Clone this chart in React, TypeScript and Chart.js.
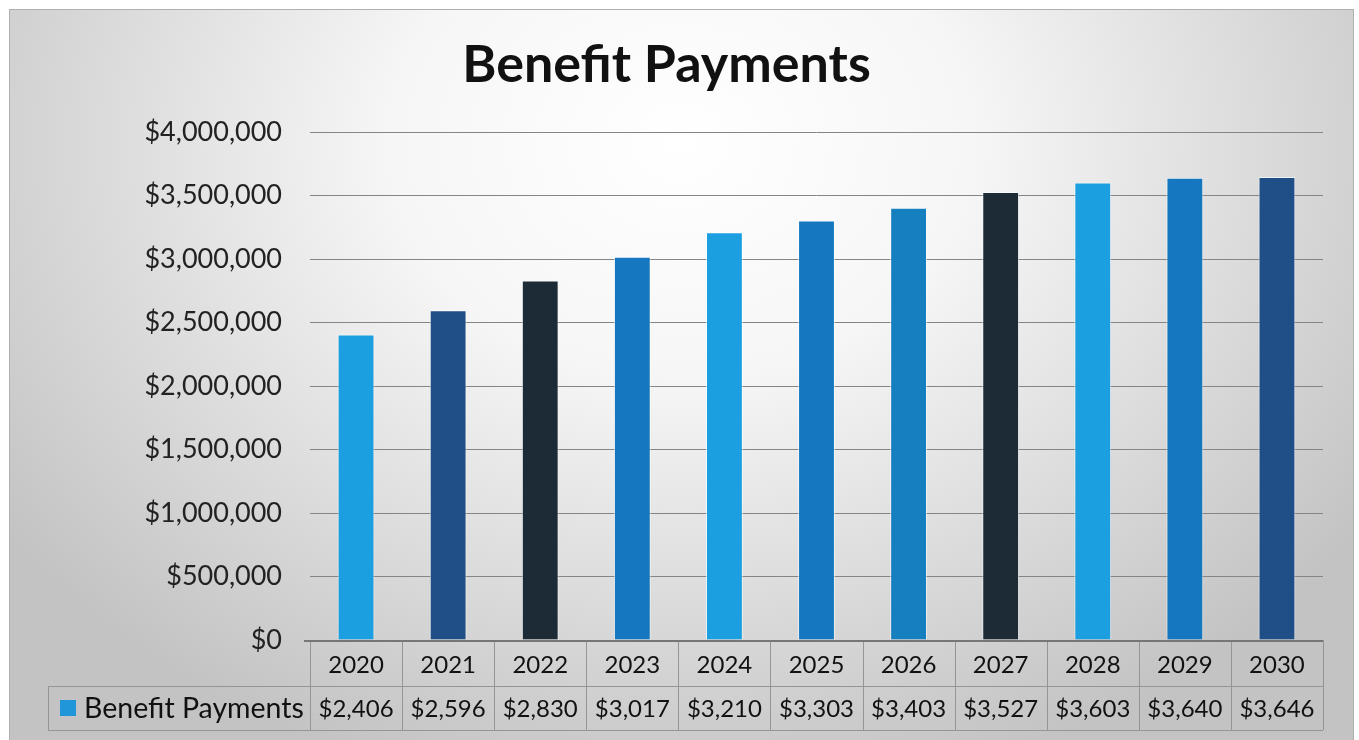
import React, { useEffect, useRef } from "react";
import { Chart, registerables } from "chart.js";

Chart.register(...registerables);

const TITLE = "Benefit Payments";
const SERIES_NAME = "Benefit Payments";
const YEARS = ["2020", "2021", "2022", "2023", "2024", "2025", "2026", "2027", "2028", "2029", "2030"];
const PAYMENTS = [2406000, 2596000, 2830000, 3017000, 3210000, 3303000, 3403000, 3527000, 3603000, 3640000, 3646000];
const BAR_COLORS = [
  "#1b9fe0",
  "#1f4f86",
  "#1c2b35",
  "#1477bf",
  "#1b9fe0",
  "#1477bf",
  "#167fc0",
  "#1c2b35",
  "#1b9fe0",
  "#1477bf",
  "#1f4f86",
];
const LEGEND_COLOR = "#2196d8";
const Y_MIN = 0;
const Y_MAX = 4000000;
const Y_STEP = 500000;

const FONT = "Lato, 'Open Sans', sans-serif";

const money = (v: number) => "$" + Math.round(v).toLocaleString("en-US");

const tablePlugin = {
  id: "dataTable",
  afterDraw(chart: any) {
    const { ctx, chartArea } = chart;
    const xs = chart.scales.x;
    const n = YEARS.length;
    const left = chartArea.left;
    const right = chartArea.right;
    const top = chartArea.bottom;
    const colW = (right - left) / n;
    const row1 = top + 46;
    const row2 = top + 90;
    const legendLeft = 48;
    ctx.save();
    const line = (x1: number, y1: number, x2: number, y2: number) => {
      ctx.beginPath();
      ctx.moveTo(x1, y1);
      ctx.lineTo(x2, y2);
      ctx.stroke();
    };
    ctx.strokeStyle = "#959595";
    ctx.lineWidth = 1;
    line(legendLeft, row1 + 0.5, right, row1 + 0.5);
    line(legendLeft, row2 + 0.5, right, row2 + 0.5);
    for (let i = 0; i <= n; i++) {
      const xx = Math.round(left + i * colW) + 0.5;
      line(xx, top, xx, row2);
    }
    line(legendLeft + 0.5, row1, legendLeft + 0.5, row2);
    ctx.strokeStyle = "#767676";
    ctx.lineWidth = 2;
    line(left - 6, top + 1, right, top + 1);

    ctx.fillStyle = "#111";
    ctx.textAlign = "center";
    ctx.textBaseline = "middle";
    ctx.font = `24px ${FONT}`;
    for (let i = 0; i < n; i++) {
      const cx = xs.getPixelForValue(i);
      ctx.fillText(YEARS[i], cx, (top + row1) / 2 + 2);
      ctx.fillText(money(PAYMENTS[i] / 1000), cx, (row1 + row2) / 2 + 1);
    }
    ctx.fillStyle = LEGEND_COLOR;
    ctx.fillRect(60, Math.round((row1 + row2) / 2) - 8, 16, 16);
    ctx.fillStyle = "#111";
    ctx.textAlign = "left";
    ctx.font = `28.5px ${FONT}`;
    ctx.fillText(SERIES_NAME, 84, (row1 + row2) / 2 + 1);
    ctx.restore();
  },
};

export default function App() {
  const canvasRef = useRef<HTMLCanvasElement | null>(null);

  useEffect(() => {
    if (!canvasRef.current) return;
    const chart = new Chart(canvasRef.current, {
      type: "bar",
      data: {
        labels: YEARS,
        datasets: [
          {
            label: SERIES_NAME,
            data: PAYMENTS,
            backgroundColor: BAR_COLORS,
            borderColor: "rgba(255,255,255,0.6)",
            borderWidth: 1,
            categoryPercentage: 1,
            barPercentage: 0.4,
          },
        ],
      },
      options: {
        responsive: false,
        animation: false,
        devicePixelRatio: 1,
        layout: { padding: { top: 10, left: 10, right: 36, bottom: 100 } },
        plugins: {
          legend: { display: false },
          tooltip: { enabled: false },
          title: {
            display: true,
            text: TITLE,
            color: "#111",
            font: { family: FONT, size: 52, weight: "bold", lineHeight: 1.2 },
            padding: { top: 24, bottom: 35.6 },
          },
        },
        scales: {
          x: {
            display: false,
            grid: { display: false },
          },
          y: {
            min: Y_MIN,
            max: Y_MAX,
            border: { display: false },
            grid: { color: "#858585", lineWidth: 1, drawTicks: false },
            ticks: {
              stepSize: Y_STEP,
              padding: 28,
              color: "#222",
              font: { family: FONT, size: 27 },
              callback: (v: any) => money(Number(v)),
            },
            afterFit: (scale: any) => {
              scale.width = 300;
            },
          },
        },
      },
      plugins: [tablePlugin],
    });
    return () => chart.destroy();
  }, []);

  return (
    <div
      style={{
        position: "fixed",
        left: 0,
        top: 0,
        width: 1359,
        height: 740,
        background: "#ffffff",
        overflow: "hidden",
      }}
    >
      <div
        style={{
          position: "absolute",
          left: 9,
          top: 9,
          width: 1343,
          height: 740,
          border: "1px solid #b0b0b0",
          background:
            "radial-gradient(ellipse 62% 90% at 50% 18%, #ffffff 0%, #f6f6f6 35%, #d9d9d9 72%, #c3c3c3 100%)",
        }}
      />
      <canvas
        ref={canvasRef}
        width={1359}
        height={740}
        style={{ position: "absolute", left: 0, top: 0 }}
      />
    </div>
  );
}
